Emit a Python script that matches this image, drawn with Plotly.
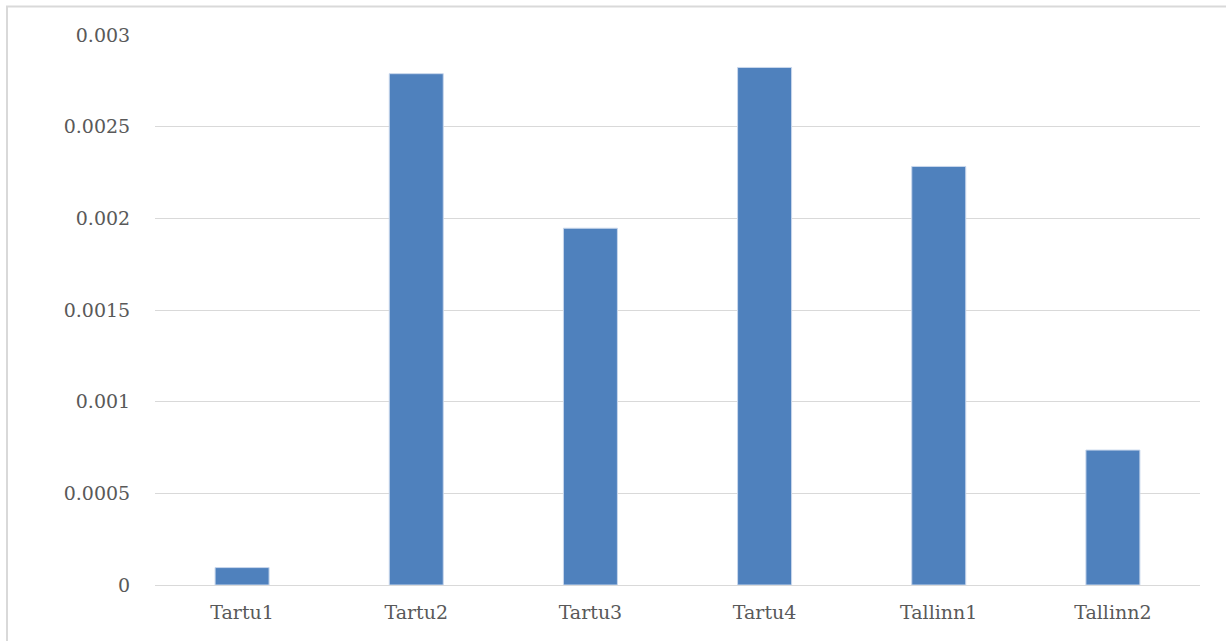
import plotly.graph_objects as go

categories = ["Tartu1", "Tartu2", "Tartu3", "Tartu4", "Tallinn1", "Tallinn2"]
values = [0.000095, 0.002789, 0.001946, 0.002823, 0.002283, 0.000736]
y_ticks = [0, 0.0005, 0.001, 0.0015, 0.002, 0.0025, 0.003]
y_tick_text = ["0", "0.0005", "0.001", "0.0015", "0.002", "0.0025", "0.003"]

W, H = 1226, 641
L, R, T, B = 155, 26, 34.5, 56
pw, ph = W - L - R, H - T - B

fig = go.Figure(go.Bar(
    x=categories, y=values,
    marker=dict(color="#4F81BD", line=dict(color="#C9D7EC", width=1)),
    width=0.31,
))

font = dict(family="DejaVu Serif", size=19, color="#595959")

fig.update_layout(
    width=W, height=H,
    margin=dict(l=L, r=R, t=T, b=B),
    paper_bgcolor="white", plot_bgcolor="white",
    showlegend=False,
    font=font,
    xaxis=dict(showgrid=False, showline=True, linecolor="#d9d9d9", linewidth=1,
               ticks="outside", ticklen=10, tickcolor="rgba(0,0,0,0)",
               tickfont=font),
    yaxis=dict(range=[0, 0.003], tickvals=y_ticks, ticktext=y_tick_text,
               showgrid=True, gridcolor="#d9d9d9", gridwidth=1,
               zeroline=False, showline=False,
               ticks="outside", ticklen=20, tickcolor="rgba(0,0,0,0)",
               tickfont=font),
    shapes=[dict(type="rect", xref="paper", yref="paper",
                 x0=(7 - L) / pw, x1=(W + 10 - L) / pw,
                 y0=-(B + 10) / ph, y1=(H - B - 6) / ph,
                 line=dict(color="#d9d9d9", width=2), layer="below")],
)

fig.write_html("out.html")
